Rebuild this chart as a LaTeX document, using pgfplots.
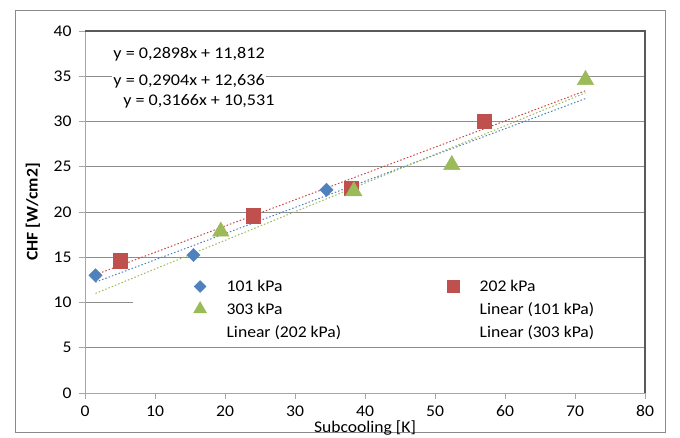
\documentclass[border=0pt]{standalone}
\usepackage{pgfplots}
\pgfplotsset{compat=1.18}
\usepackage{fontspec}
\setmainfont{Carlito}[FakeStretch=1.08]
\newfontfamily\eqfont{Carlito}[FakeStretch=1.11]
\definecolor{cblue}{HTML}{4F81BD}
\definecolor{cred}{HTML}{C0504D}
\definecolor{cgreen}{HTML}{9BBB59}
\definecolor{gridgray}{HTML}{8C8C8C}
\definecolor{tickgray}{HTML}{A6A6A6}
\definecolor{darkframe}{HTML}{595959}
\definecolor{framegray}{HTML}{8A8A8A}
\begin{document}
\begin{tikzpicture}[font=\fontsize{16.3bp}{19bp}\selectfont]
\useasboundingbox (-85bp,-45bp) rectangle (595bp,393bp);
\draw[framegray, line width=0.9bp] (-70bp,-39bp) rectangle (580bp,383bp);
\begin{axis}[
  at={(0,0)}, anchor=south west,
  scale only axis, width=560bp, height=362bp,
  xmin=0, xmax=80, ymin=0, ymax=40,
  xtick={0,10,...,80}, ytick={0,5,...,40},
  ymajorgrids, grid style={color=gridgray, line width=0.8bp},
  axis line style={draw=none},
  tick align=outside, xtick pos=bottom, ytick pos=left,
  major tick length=6bp,
  tick style={color=tickgray, line width=0.8bp},
  /pgf/number format/assume math mode=true,
  ticklabel style={font=\fontsize{16.3bp}{19bp}\selectfont, text=black},
  yticklabel style={xshift=-4bp},
  xticklabel style={yshift=-3bp},
  xlabel={Subcooling [K]}, ylabel={CHF [W/cm2]},
  xlabel style={at={(axis description cs:0.5,-0.097)}, anchor=center},
  ylabel style={at={(axis description cs:-0.093,0.5)}, anchor=center, font=\fontsize{16.3bp}{19bp}\selectfont\bfseries},
  legend columns=2,
  legend cell align=left,
  legend style={at={(rel axis cs:0.190,0.318)}, anchor=north west, draw=none, fill=none,
    inner xsep=0pt, inner ysep=0pt, row sep=5.5bp,
    nodes={inner sep=2bp},
    /tikz/every odd column/.append style={column sep=18bp},
    /tikz/every even column/.append style={column sep=102bp}},
  clip=false,
]
\draw[white, line width=2.5bp] (axis cs:6.86,10) -- (axis cs:79.9,10);
\addplot[only marks, mark=square*, mark size=4.7bp, mark options={rotate=45, fill=cblue, draw=cblue},
  legend image post style={mark size=4.2bp}]
  coordinates {(1.5,13.0) (15.5,15.25) (34.5,22.45)};
\addlegendentry{101 kPa}
\addplot[only marks, mark=square*, mark size=7.2bp, mark options={fill=cred, draw=cred},
  legend image post style={mark size=6bp}]
  coordinates {(5.0,14.6) (24.0,19.6) (38.0,22.6) (57.0,30.0)};
\addlegendentry{202 kPa}
\addplot[only marks, mark=triangle*, mark size=9.5bp, mark options={fill=cgreen, draw=cgreen},
  legend image post style={mark size=7.5bp}]
  coordinates {(19.4,17.85) (38.4,22.3) (52.4,25.2) (71.5,34.6)};
\addlegendentry{303 kPa}
\addplot[cblue, line width=1bp, dash pattern=on 1.5bp off 2bp, legend image code/.code={}]
  coordinates {(1.5,12.247) (71.5,32.533)};
\addlegendentry{Linear (101 kPa)}
\addplot[cred!90!red, line width=1bp, dash pattern=on 1.5bp off 2bp, legend image code/.code={}]
  coordinates {(1.5,13.072) (71.5,33.400)};
\addlegendentry{Linear (202 kPa)}
\addplot[cgreen, line width=1bp, dash pattern=on 1.5bp off 2bp, legend image code/.code={}]
  coordinates {(1.5,11.006) (71.5,33.168)};
\addlegendentry{Linear (303 kPa)}
\draw[tickgray, line width=0.8bp] (rel axis cs:0,0) -- (rel axis cs:0,1);
\draw[tickgray, line width=0.8bp] (rel axis cs:0,0) -- (rel axis cs:1,0);
\draw[darkframe, line width=1.3bp] (rel axis cs:0,1) -- (rel axis cs:1,1) -- (rel axis cs:1,0);
\node[anchor=west, inner sep=1bp, font=\fontsize{16.3bp}{19bp}\eqfont] at (axis cs:3.9,37.4) {y = 0,2898x + 11,812};
\node[anchor=west, inner sep=1bp, fill=white, font=\fontsize{16.3bp}{19bp}\eqfont] at (axis cs:3.9,34.4) {y = 0,2904x + 12,636};
\node[anchor=west, inner sep=1bp, font=\fontsize{16.3bp}{19bp}\eqfont] at (axis cs:5.3,32.2) {y = 0,3166x + 10,531};
\end{axis}
\end{tikzpicture}
\end{document}
